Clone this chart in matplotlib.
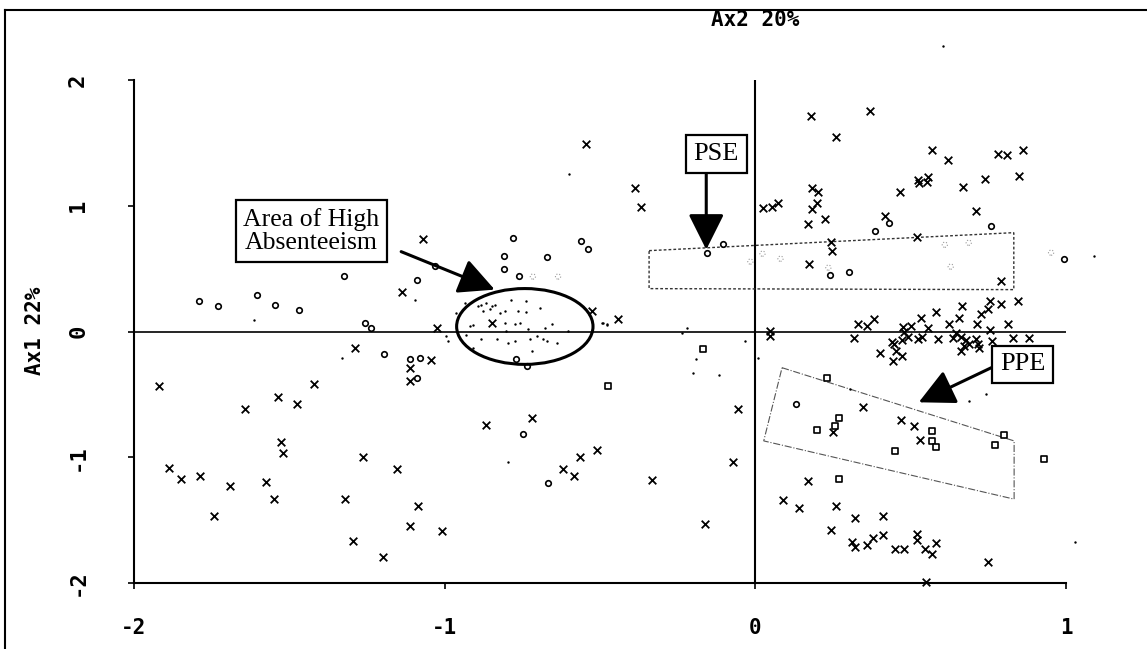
import matplotlib
matplotlib.use("Agg")
import matplotlib.pyplot as plt
from matplotlib.patches import Ellipse, Polygon
from matplotlib.lines import Line2D

plt.rcParams["axes.unicode_minus"] = False

# ── data ──────────────────────────────────────────────────────────────────────
cross_x = [-1.919, -1.887, -1.848, -1.787, -1.742, -1.690, -1.642, -1.574, -1.548, -1.535,
           -1.526, -1.520, -1.475, -1.422, -1.320, -1.296, -1.290, -1.197, -1.264, -1.152,
           -1.026, -0.848, -1.045, -1.113, -1.113, -0.055, -0.720, -0.868, -0.510, -0.565,
           -0.619, -0.584, -0.332, -0.071, -1.087, -1.113, -1.010, -0.161,
           -0.545, -0.387, -0.368, -1.071, -1.137, -0.442, -0.527, 0.046, 0.046,
           0.180, 0.370, 0.260, 0.570, 0.620, 0.780, 0.810, 0.860, 0.850, 0.740, 0.670,
           0.523, 0.555, 0.526, 0.552, 0.465, 0.710, 0.184, 0.203, 0.026, 0.055, 0.074,
           0.181, 0.200, 0.171, 0.223, 0.416, 0.242, 0.248, 0.519, 0.174, 0.790,
           0.665, 0.755, 0.790, 0.845, 0.748, 0.726, 0.581, 0.532, 0.655, 0.329, 0.358,
           0.381, 0.474, 0.500, 0.477, 0.555, 0.623, 0.645, 0.713, 0.813, 0.755, 0.319,
           0.439, 0.471, 0.490, 0.523, 0.535, 0.587, 0.635, 0.661, 0.677, 0.687, 0.710,
           0.716, 0.719, 0.761, 0.829, 0.881, 0.400, 0.452, 0.471, 0.445, 0.442, 0.661,
           0.671,
           0.345, 0.250, 0.470, 0.510, 0.530, 0.170, 0.090, 0.140, 0.260, 0.320, 0.410,
           0.245, 0.310, 0.320, 0.360, 0.380, 0.410, 0.450, 0.480, 0.520, 0.520, 0.545,
           0.570, 0.580, 0.750, 0.550]
cross_y = [-0.437, -1.087, -1.175, -1.150, -1.468, -1.230, -0.619, -1.200, -1.333, -0.524,
           -0.881, -0.968, -0.579, -0.421, -1.333, -1.667, -0.130, -1.796, -1.000, -1.095,
           0.024, 0.071, -0.230, -0.290, -0.390, -0.620, -0.690, -0.746, -0.944, -1.000,
           -1.095, -1.150, -1.180, -1.040, -1.390, -1.550, -1.587, -1.530,
           1.490, 1.140, 0.990, 0.738, 0.315, 0.103, 0.160, 0.003, -0.037,
           1.710, 1.750, 1.550, 1.440, 1.360, 1.410, 1.400, 1.440, 1.240, 1.210, 1.150,
           1.206, 1.230, 1.183, 1.190, 1.111, 0.960, 1.143, 1.111, 0.984, 0.992, 1.024,
           0.976, 1.024, 0.857, 0.897, 0.921, 0.714, 0.643, 0.754, 0.540, 0.400,
           0.206, 0.246, 0.222, 0.246, 0.175, 0.143, 0.159, 0.111, 0.111, 0.063, 0.040,
           0.103, 0.032, 0.040, 0.000, 0.024, 0.056, -0.008, 0.063, 0.063, 0.008, -0.048,
           -0.087, -0.071, -0.040, -0.063, -0.040, -0.063, -0.048, -0.040, -0.071, -0.103, -0.063,
           -0.103, -0.135, -0.079, -0.048, -0.048, -0.167, -0.159, -0.198, -0.103, -0.238, -0.159,
           -0.119,
           -0.600, -0.800, -0.700, -0.750, -0.860, -1.190, -1.340, -1.400, -1.390, -1.480, -1.470,
           -1.580, -1.670, -1.710, -1.700, -1.640, -1.620, -1.730, -1.730, -1.610, -1.660, -1.730,
           -1.770, -1.680, -1.830, -1.990]

circ_x = [-1.790, -1.731, -1.604, -1.545, -1.468, -1.323, -1.256, -1.237, -1.194,
          -1.110, -1.080, -1.090, -0.771, -0.735, -0.748, -0.668,
          -1.090, -1.030, -0.780, -0.810, -0.810, -0.760, -0.670, -0.560, -0.540,
          -0.155, -0.103, 0.385, 0.430, 0.760, 0.240, 0.300, 0.995, 0.130]
circ_y = [0.240, 0.206, 0.294, 0.209, 0.167, 0.439, 0.069, 0.029, -0.177,
          -0.220, -0.210, -0.370, -0.222, -0.278, -0.818, -1.206,
          0.410, 0.520, 0.740, 0.600, 0.500, 0.440, 0.590, 0.720, 0.660,
          0.627, 0.698, 0.800, 0.860, 0.840, 0.450, 0.470, 0.580, -0.580]

sq_x = [-0.168, -0.474, 0.230, 0.270, 0.255, 0.200, 0.570, 0.570, 0.580, 0.450,
        0.770, 0.800, 0.930, 0.270]
sq_y = [-0.143, -0.437, -0.370, -0.690, -0.750, -0.780, -0.790, -0.870, -0.920, -0.950,
        -0.900, -0.820, -1.010, -1.170]

dot_x = [-0.882, -0.866, -0.849, -0.839, -0.876, -0.855, -0.823, -0.806, -0.785, -0.739,
         -0.764, -0.739, -0.694, -0.893, -0.935, -0.962, -0.909, -0.919, -0.806, -0.774,
         -0.758, -0.801, -0.731, -0.677, -0.656, -0.602, -0.930, -0.882, -0.833, -0.796,
         -0.774, -0.726, -0.704, -0.683, -0.672, -0.640, -0.720, -0.909, -0.989, -0.995,
         -0.495, -0.478, -1.613, -1.329, -0.600, 0.603, 1.030, -0.797, -0.219, -0.235,
         -0.190, -0.200, -0.116, -0.032, 0.010, -0.490, -0.477, 0.306, 0.742, 0.687,
         -1.097, 1.090]
dot_y = [0.214, 0.228, 0.206, 0.214, 0.161, 0.175, 0.148, 0.161, 0.254, 0.241,
         0.161, 0.153, 0.188, 0.201, 0.228, 0.148, 0.048, 0.042, 0.069, 0.056,
         0.069, 0.003, 0.016, 0.029, 0.056, 0.003, -0.024, -0.063, -0.058, -0.090,
         -0.077, -0.063, -0.037, -0.063, -0.077, -0.090, -0.156, -0.130, -0.077, -0.037,
         0.069, 0.056, 0.095, -0.210, 1.250, 2.270, -1.670, -1.040, 0.024, -0.008,
         -0.222, -0.333, -0.349, -0.079, -0.214, 0.071, 0.048, -0.460, -0.500, -0.556,
         0.254, 0.600]

# faint (half-printed) circles
faint_x = [-0.016, 0.023, 0.081, 0.629, 0.687, 0.610, 0.952, 0.235, -0.635, -0.716]
faint_y = [0.556, 0.619, 0.579, 0.516, 0.706, 0.690, 0.627, 0.508, 0.437, 0.437]

# outlined zones
absent_center = (-0.742, 0.040)
absent_w, absent_h = 0.439, 0.603
pse_zone = [(-0.342, 0.643), (0.832, 0.786), (0.832, 0.333), (-0.342, 0.341)]
ppe_zone = [(0.086, -0.288), (0.833, -0.870), (0.833, -1.333), (0.027, -0.870)]

MONO = "DejaVu Sans Mono"
SERIF = "Liberation Serif"

# ── layout ────────────────────────────────────────────────────────────────────
fig = plt.figure(figsize=(11.47, 6.49), dpi=100)
ax = fig.add_axes([134 / 1147, 1 - 583 / 649, (1066 - 134) / 1147, (583 - 80) / 649])
ax.set_xlim(-2, 1)
ax.set_ylim(-2, 2)

for s in ["top", "right"]:
    ax.spines[s].set_visible(False)
for s in ["left", "bottom"]:
    ax.spines[s].set_linewidth(1.5)

ax.axhline(0, color="black", lw=1.2, zorder=1)
ax.axvline(0, color="black", lw=1.5, zorder=1)

# points
ax.scatter(cross_x, cross_y, marker="x", s=30, color="black", linewidths=1.3, clip_on=False, zorder=3)
ax.scatter(circ_x, circ_y, marker="o", s=16, facecolors="white", edgecolors="black",
           linewidths=1.2, clip_on=False, zorder=3)
ax.scatter(sq_x, sq_y, marker="s", s=16, facecolors="white", edgecolors="black",
           linewidths=1.2, clip_on=False, zorder=3)
ax.scatter(dot_x, dot_y, marker="o", s=3, color="black", linewidths=0, clip_on=False, zorder=3)
ax.scatter(faint_x, faint_y, marker="o", s=14, facecolors="none", edgecolors="#999999",
           linewidths=0.8, linestyle=":", clip_on=False, zorder=3)

# zones
ax.add_patch(Ellipse(absent_center, absent_w, absent_h, fill=False, lw=2.2,
                     edgecolor="black", zorder=4))
ax.add_patch(Polygon(pse_zone, closed=True, fill=False, ls=(0, (2, 1.5)), lw=1.0,
                     edgecolor="#333333", zorder=2))
ax.add_patch(Polygon(ppe_zone, closed=True, fill=False, ls="-.", lw=0.8,
                     edgecolor="#555555", zorder=2))

# callouts
box = dict(boxstyle="square,pad=0.3", fc="white", ec="black", lw=1.6)
head = dict(arrowstyle="-|>,head_length=1.1,head_width=0.55", mutation_scale=20,
            lw=2.2, color="black", shrinkA=0, shrinkB=0)

ax.text(-1.429, 0.80, "Area of High\nAbsenteeism", family=SERIF, fontsize=18.5,
        ha="center", va="center", linespacing=1.05, bbox=box, zorder=6)
ax.annotate("", xy=(-0.839, 0.333), xytext=(-1.140, 0.635), arrowprops=head, zorder=5)

ax.text(-0.126, 1.413, "PSE", family=SERIF, fontsize=19, ha="center", va="center",
        bbox=box, zorder=6)
ax.annotate("", xy=(-0.158, 0.651), xytext=(-0.158, 1.254), arrowprops=head, zorder=5)

ax.text(0.861, -0.262, "PPE", family=SERIF, fontsize=19, ha="center", va="center",
        bbox=box, zorder=6)
ax.annotate("", xy=(0.526, -0.563), xytext=(0.768, -0.278), arrowprops=head, zorder=5)

# ── axes text ─────────────────────────────────────────────────────────────────
ax.set_xticks([-2, -1, 0, 1])
ax.set_yticks([-2, -1, 0, 1, 2])
ax.tick_params(axis="x", length=4, width=1.2, pad=21, labelsize=15)
ax.tick_params(axis="y", length=4, width=1.2, pad=29, labelsize=16, labelrotation=90)
for lab in ax.get_xticklabels() + ax.get_yticklabels():
    lab.set_family(MONO)
    lab.set_fontweight("bold")
for lab in ax.get_yticklabels():
    lab.set_va("center")

ax.text(0, 1.119, "Ax2 20%", transform=ax.get_xaxis_transform(), family=MONO,
        fontweight="bold", fontsize=15, ha="center", va="center")
fig.text(35 / 1147, 1 - 331 / 649, "Ax1 22%", rotation=90, family=MONO,
         fontweight="bold", fontsize=15, ha="center", va="center")

# scan frame (left and top edges)
fig.add_artist(Line2D([5 / 1147, 5 / 1147], [0, 1 - 10 / 649], transform=fig.transFigure,
                      color="black", lw=1.5))
fig.add_artist(Line2D([5 / 1147, 1], [1 - 10 / 649, 1 - 10 / 649], transform=fig.transFigure,
                      color="black", lw=1.5))

fig.savefig("out.png", dpi=100, facecolor="white")
